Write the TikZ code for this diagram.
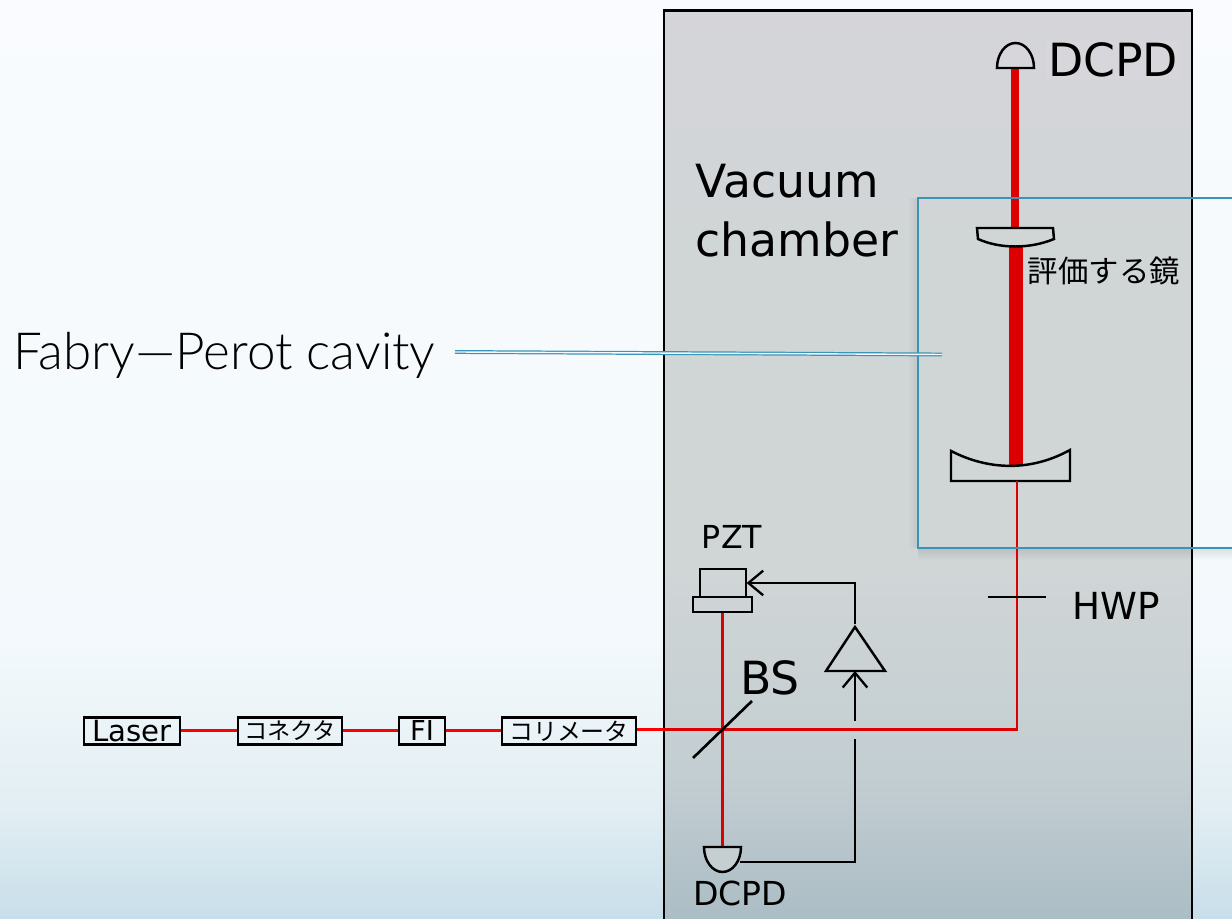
\documentclass[tikz,border=0pt]{standalone}
\usepackage{fontspec}
\setmainfont{DejaVu Sans}
\newfontfamily\cjk{Noto Sans CJK JP}
\newfontfamily\thinsans{Lato Light}
\usetikzlibrary{arrows.meta,fadings}
\definecolor{outerbot}{HTML}{C8DEE9}
\definecolor{outermid}{HTML}{E2EEF3}
\definecolor{outerlow}{HTML}{F3F9FC}
\definecolor{outertop}{HTML}{F9FBFE}
\definecolor{chambot}{HTML}{ACBDC5}
\definecolor{chammid}{HTML}{C3CED2}
\definecolor{chamlow}{HTML}{D0D5D6}
\definecolor{chamtop}{HTML}{D5D5D9}
\definecolor{cavblue}{HTML}{3A94B8}
\definecolor{beamred}{HTML}{DD0000}
\pgfdeclareverticalshading{roomfade}{100bp}{color(0bp)=(outerbot);color(25bp)=(outerbot);color(31bp)=(outermid);color(40bp)=(outerlow);color(75bp)=(outertop);color(100bp)=(outertop)}
\pgfdeclareverticalshading{chamberfade}{100bp}{color(0bp)=(chambot);color(25bp)=(chambot);color(33bp)=(chammid);color(44bp)=(chamlow);color(62bp)=(chamlow);color(75bp)=(chamtop);color(100bp)=(chamtop)}
\begin{document}
\begin{tikzpicture}[x=0.01cm, y=-0.01cm,
          beam/.style={beamred, line width=0.85pt},
          fiber/.style={red, line width=0.85pt},
          optic/.style={black, line width=0.7pt},
          wire/.style={black, line width=0.65pt},
          sense/.style={wire, -{Straight Barb[length=4.2pt, width=7pt]}},
          inbox/.style={draw, line width=0.75pt, inner sep=0pt, minimum height=0.27cm},
          pzt part/.style={draw, line width=0.35pt, inner sep=0pt},
          label big/.style={font=\fontsize{13}{15.6}\selectfont, inner sep=0pt}]
          \useasboundingbox (0,0) rectangle (1232,919);
          \shade[shading=roomfade] (0,0) rectangle (1232,919);
          \shade[shading=chamberfade] (664,11) rectangle (1192,919);
          \draw[black, line width=0.85pt] (664,925) -- (664,11) -- (1192,11) -- (1192,925);
          % shadow of the cavity frame
          \fill[black, opacity=0.1, path fading=south] (918,548) rectangle (1232,560);
          \fill[black, opacity=0.07, path fading=west] (908,198) rectangle (918,548);
          % upper part
          \coordinate (top pd) at (1015,68);
          \coordinate (out mirror top) at (1015,228);
          \coordinate (out mirror bot) at (1016,246);
          \coordinate (end mirror top) at (1016,466);
          \coordinate (end mirror bot) at (1017,481);
          \coordinate (corner) at (1017,730);
          \coordinate (bs) at (722.5,730);
          \coordinate (low pd) at (722.5,847);
          \draw[beamred, line width=2pt] (top pd) -- (out mirror top);
          \draw[beamred, line width=4pt] (out mirror bot) -- (end mirror top);
          \draw[optic, fill=chamtop!95!white] (997,68) arc[start angle=180, end angle=360, x radius=18.5, y radius=25] -- cycle;
          \draw[optic] (977,228) -- (1053,228) -- (1054,239) .. controls (1030,249) and (1000,249) .. (978,239) -- cycle;
          \draw[optic] (951,451) .. controls (990,471) and (1032,471) .. (1070,450) -- (1070,481) -- (951,481) -- cycle;
          \node[label big, fill=chamtop!95!white, inner sep=0.5pt] (top pd label) at (1113,60) {DCPD};
          \node[font=\fontsize{8.65}{10}\selectfont\cjk, inner sep=0pt] (mirror label) at (1104,271) {評価する鏡};
          \node[label big, align=left, anchor=west] (chamber label) at (695,211) {Vacuum\\[1.1pt]chamber};
          % input line
          \node[inbox, minimum width=0.96cm, font=\fontsize{8.3}{10}\selectfont] (laser) at (132,731) {Laser};
          \node[inbox, minimum width=1.04cm, font=\fontsize{6.6}{8}\selectfont\cjk] (connector) at (290,731) {コネクタ};
          \node[inbox, minimum width=0.46cm, font=\fontsize{7.8}{10}\selectfont] (fi) at (422,731) {FI};
          \node[inbox, minimum width=1.34cm, font=\fontsize{6.8}{8}\selectfont\cjk] (collimator) at (569,731) {コリメータ};
          \draw[fiber] (laser) -- (connector);
          \draw[fiber] (connector) -- (fi);
          \draw[fiber] (fi) -- (collimator);
          \draw[fiber] (collimator.east |- bs) -- (664,730);
          \draw[beam] (664,730) -- (bs) -- (corner) -- (end mirror bot);
          % lock loop
          \node[pzt part, minimum width=0.46cm, minimum height=0.28cm] (pzt head) at (723,583) {};
          \node[pzt part, minimum width=0.59cm, minimum height=0.15cm] (pzt base) at (722.5,604.5) {};
          \node[font=\fontsize{9}{11}\selectfont, inner sep=0pt] (pzt label) at (732,537) {PZT};
          \draw[beam] (pzt base.south) -- (low pd);
          \draw[black, line width=0.75pt] (693,758) -- (752,701);
          \node[label big] (bs label) at (770,678) {BS};
          \draw[optic, fill=chamlow!70!chambot] (704,847) -- (741,847) arc[start angle=0, end angle=180, x radius=18.5, y radius=25] -- cycle;
          \node[font=\fontsize{9.4}{11}\selectfont, inner sep=0pt] (low pd label) at (740,893) {DCPD};
          \draw[wire, line width=0.7pt] (826,671) -- (885,671) -- (855,627) -- cycle;
          \coordinate (amp in) at (855,671);
          \coordinate (amp out) at (855,624);
          \coordinate (wire gap low) at (855,739);
          \coordinate (wire gap up) at (855,721);
          \coordinate (low pd out) at (740,862);
          \draw[sense] (wire gap up) -- (amp in);
          \draw[wire] (low pd out) -- (855,862) -- (wire gap low);
          \draw[sense] (amp out) |- (pzt head.east);
          % half wave plate
          \draw[black, line width=0.35pt] (988,597) -- (1046,597);
          \node[font=\fontsize{10.6}{12}\selectfont, inner sep=0pt] (hwp label) at (1116,606) {HWP};
          % cavity frame and its label
          \draw[cavblue, line width=0.75pt] (1232,198) -- (918,198) -- (918,548) -- (1232,548);
          \node[font=\fontsize{14.55}{16}\selectfont\thinsans, inner sep=0pt] (cavity label) at (224.5,355) {Fabry—Perot cavity};
          \coordinate (cavity in) at (942,354.5);
          \draw[cavblue, line width=0.35pt, double=outerlow, double distance=0.4pt] (455,352) -- (cavity in);
      \end{tikzpicture}
\end{document}
